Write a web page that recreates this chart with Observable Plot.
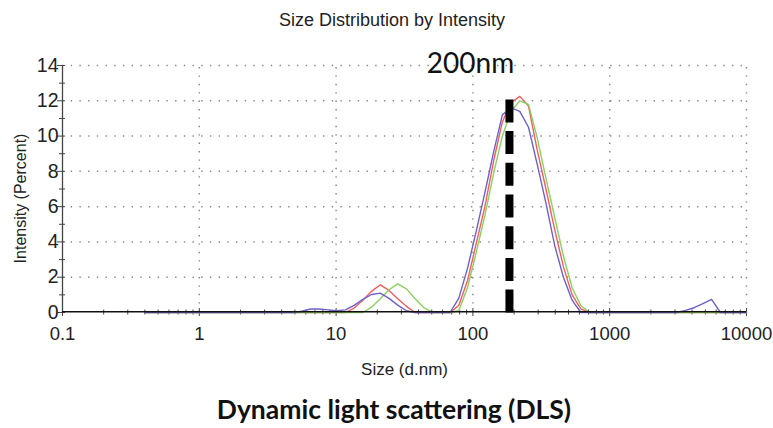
<!DOCTYPE html>
<html><head><meta charset="utf-8">
<script src="https://cdn.jsdelivr.net/npm/d3@7"></script>
<script src="https://cdn.jsdelivr.net/npm/@observablehq/plot@0.6"></script>
<style>
html,body{margin:0;padding:0;background:#fff;}
body{width:773px;height:428px;overflow:hidden;}
#title{height:40px;line-height:40px;text-align:center;font-family:"Liberation Sans",Arial,sans-serif;font-size:18px;color:#222;padding-left:11px;box-sizing:border-box;}
#chart svg{display:block;}
#caption{height:38px;line-height:38px;text-align:center;font-family:Lato,"Open Sans",sans-serif;font-weight:bold;font-size:26.5px;color:#111;padding-left:15px;box-sizing:border-box;}
</style></head><body>
<div id="title">Size Distribution by Intensity</div>
<div id="chart"></div>
<div id="caption">Dynamic light scattering (DLS)</div>
<script>
// Size bins (d.nm)
const sizes = [0.4,0.4632,0.5365,0.6213,0.7195,0.8332,0.9649,1.117,1.294,1.499,
  1.736,2.010,2.328,2.696,3.122,3.615,4.187,4.849,5.615,6.503,
  7.531,8.721,10.10,11.70,13.54,15.69,18.17,21.04,24.36,28.21,
  32.67,37.84,43.82,50.75,58.77,68.06,78.82,91.28,105.7,122.4,
  141.8,164.2,190.1,220.2,255.0,295.3,342.0,396.1,458.7,531.2,
  615.1,712.4,825.0,955.4,1106,1281,1484,1718,1990,2305,
  2669,3091,3580,4145,4801,5560,6439,7456,8635,10000];
// Intensity (%) for each measurement
const redValues = [0,0,0,0,0,0,0,0,0,0,
  0,0,0,0,0,0,0,0,0,0,
  0,0,0,0,0.25,0.7,1.2,1.57,1.25,0.78,
  0.35,0,0,0,0,0,0.4,1.8,3.9,6.0,
  8.6,10.8,11.9,12.25,11.7,9.2,7.0,4.7,2.6,1.0,
  0.2,0,0,0,0,0,0,0,0,0,
  0,0,0,0,0,0,0,0,0,0];
const greenValues = [0,0,0,0,0,0,0,0,0,0,
  0,0,0,0,0,0,0,0,0,0,
  0,0,0,0,0,0,0.3,0.78,1.29,1.62,
  1.34,0.78,0.27,0,0,0,0.1,1.4,3.4,5.5,
  7.9,10.0,11.4,12.0,11.8,9.9,7.6,5.4,3.2,1.4,
  0.4,0,0,0,0,0,0,0,0,0,
  0,0,0,0,0,0,0,0,0,0];
const blueValues = [0,0,0,0,0,0,0,0,0,0,
  0,0,0,0,0,0,0,0,0.07,0.2,
  0.2,0.15,0.1,0.15,0.4,0.75,1.02,1.1,0.8,0.42,
  0.1,0,0,0,0,0,0.8,2.5,4.6,6.8,
  9.1,11.2,11.6,11.4,10.5,8.4,6.2,3.8,2.0,0.7,
  0,0,0,0,0,0,0,0,0,0,
  0,0,0.12,0.27,0.5,0.74,0,0,0,0];

// Axes / annotation
const xMajorTicks = [0.1,1,10,100,1000,10000];
const xTickLabels = ["0.1","1","10","100","1000","10000"];
const xGridTicks = [1,10,100,1000,10000];
const xMinorTicks = [0.1,1,10,100,1000].flatMap(d => [2,3,4,5,6,7,8,9].map(k => d*k));
const yMajorTicks = [0,2,4,6,8,10,12,14];
const yMinorTicks = [1,3,5,7,9,11,13];
const yGridTicks = [2,4,6,8,10,12,14];
const markerSize = [185];
const markerTop = [12.05];
const annotation = [{x: 96, y: 14.06, text: "200nm"}];

const rows = sizes.map((s, i) => ({size: s, red: redValues[i], green: greenValues[i], blue: blueValues[i]}));
const font = "'Liberation Sans', Arial, sans-serif";

const chart = Plot.plot({
  width: 773,
  height: 350,
  marginLeft: 62,
  marginRight: 27,
  marginTop: 25,
  marginBottom: 78,
  style: {fontFamily: font, background: "#fff", color: "#222", overflow: "visible"},
  x: {type: "log", domain: [0.1, 10000], axis: null},
  y: {domain: [0, 14], axis: null},
  marks: [
    // dotted grid
    Plot.ruleY(yGridTicks, {y: d => d, x1: 0.1, x2: 10000, stroke: "#888", strokeOpacity: 1, strokeWidth: 1.5, strokeDasharray: "1.4,7.3"}),
    Plot.ruleX(xGridTicks, {x: d => d, y1: 0, y2: 14, stroke: "#888", strokeOpacity: 1, strokeWidth: 1.5, strokeDasharray: "1.4,7"}),
    // y axis line
    Plot.ruleX([0.1], {x: d => d, y1: 0, y2: 14, stroke: "#444", strokeWidth: 1.3}),
    // ticks
    Plot.axisX(xMinorTicks, {tickSize: 5, dy: -2.5, tickFormat: () => "", stroke: "#444"}),
    Plot.axisX(xMajorTicks, {tickSize: 8, dy: -4, tickFormat: () => "", stroke: "#444"}),
    Plot.axisY(yMinorTicks, {tickSize: 6, dx: 3, tickFormat: () => "", stroke: "#444"}),
    Plot.axisY(yMajorTicks, {tickSize: 8, dx: 3, tickFormat: () => "", stroke: "#444"}),
    // tick labels
    Plot.axisX(xMajorTicks, {tickSize: 0, tickPadding: 14, tickFormat: d => xTickLabels[xMajorTicks.indexOf(d)], fontSize: 18.5, fill: "#222"}),
    Plot.axisY(yMajorTicks, {tickSize: 0, tickPadding: 4, tickFormat: d => String(d), fontSize: 19.5, fill: "#222"}),
    // curves
    Plot.line(rows, {x: "size", y: "red", stroke: "#ef5f5f", strokeWidth: 1.4}),
    Plot.line(rows, {x: "size", y: "green", stroke: "#8ccf62", strokeWidth: 1.4}),
    Plot.line(rows, {x: "size", y: "blue", stroke: "#6c62c6", strokeWidth: 1.4}),
    // x axis line
    Plot.ruleY([0], {y: d => d, x1: 0.1, x2: 10000, stroke: "#111", strokeWidth: 1.6, dy: -0.8}),
    // 200 nm marker
    Plot.ruleX(markerSize, {x: d => d, y1: (d, i) => markerTop[i], y2: -0.1, stroke: "#000", strokeWidth: 8, strokeDasharray: "23,8.7"}),
    Plot.text(annotation, {x: "x", y: "y", text: "text", fontSize: 28, fontFamily: "Lato, 'Open Sans', sans-serif", fill: "#111", textAnchor: "middle", lineAnchor: "middle"}),
    // axis titles
    Plot.text(["Size (d.nm)"], {text: d => d, frameAnchor: "bottom", dy: 62, fontSize: 17, fill: "#222"}),
    Plot.text(["Intensity (Percent)"], {text: d => d, frameAnchor: "left", textAnchor: "middle", rotate: -90, dx: -42, dy: 9.5, fontSize: 16, fill: "#222"})
  ]
});
document.getElementById("chart").appendChild(chart);
</script>
</body></html>
